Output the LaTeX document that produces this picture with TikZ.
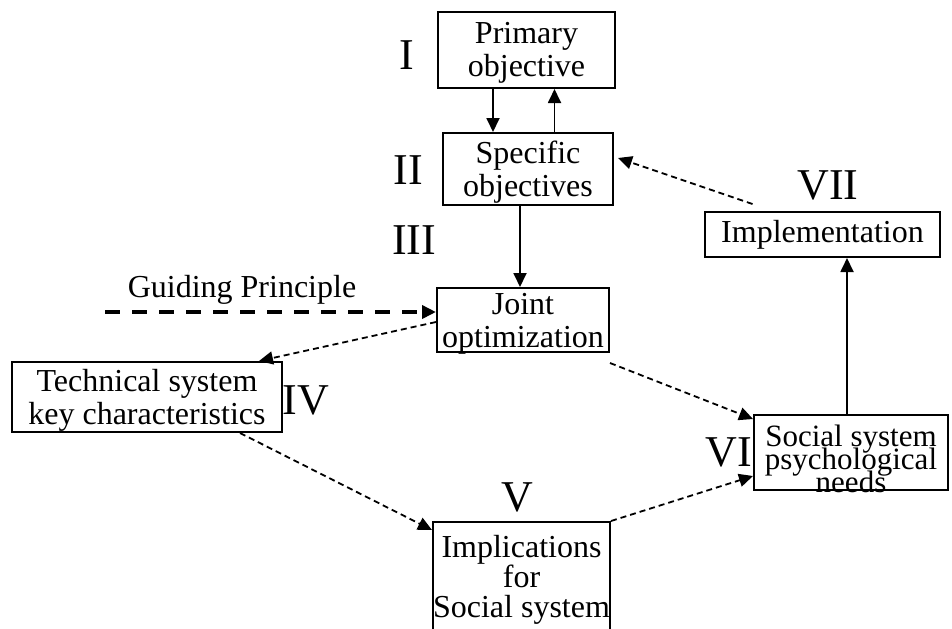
\documentclass[tikz,border=0pt]{standalone}
\usepackage{fontspec}
\setmainfont{Liberation Serif}
\usetikzlibrary{arrows.meta}
\newcommand\tightlines{\fontsize{15.5}{11.5}\selectfont\setlength{\lineskiplimit}{-20pt}}

\begin{document}
\begin{tikzpicture}[x=0.5pt, y=-0.5pt, font=\fontsize{16}{16.5}\selectfont,
	box/.style={draw, line width=1pt, inner sep=0pt, align=center},
	num/.style={font=\fontsize{22}{22}\selectfont},
	link/.style={line width=0.9pt, -{Triangle[length=7pt,width=6.5pt]}},
	dlink/.style={link, dash pattern=on 3pt off 2pt}]
	\clip (0,0) rectangle (952,628);
	\node[box, minimum width=88.5pt, minimum height=38pt, text depth=0.5pt] (prim) at (526.5,50) {Primary\\objective};
	\node[box, minimum width=85pt, minimum height=36pt, text depth=0.5pt] (spec) at (528,169) {Specific\\objectives};
	\node[box, minimum width=86pt, minimum height=32pt, text depth=-1pt] (joint) at (523,320) {Joint\\optimization};
	\node[box, minimum width=135pt, minimum height=35pt, text depth=0pt] (tech) at (147,397) {Technical system\\key characteristics};
	\node[box, minimum width=88.5pt, minimum height=58pt, font=\fontsize{16}{15}\selectfont] (impl) at (521.5,580) {Implications\\for\\Social system};
	\node[box, minimum width=97pt, minimum height=37.5pt] (soc) at (851,452.5) {};
	\node[align=center, inner sep=0pt, font=\tightlines] (soctext) at ([yshift=-3pt]soc.center) {Social system\\psychological\\needs};
	\node[box, minimum width=117.5pt, minimum height=22.5pt] (imp) at (822.5,234.5) {Implementation};
	\node[num] (nI) at (407,55) {I};
	\node[num] (nII) at (408,170) {II};
	\node[num] (nIII) at (414,240) {III};
	\node[num] (nIV) at (306,400) {IV};
	\node[num] (nV) at (517,497) {V};
	\node[num] (nVI) at (729,452) {VI};
	\node[num] (nVII) at (828,185) {VII};
	\node (guide) at (242,290) {Guiding Principle};
	\coordinate (gp) at (105,312);
	\draw[link] ([xshift=-16.75pt]prim.south) to ([xshift=-16.75pt]prim.south |- spec.north);
	\draw[link] ([xshift=13.25pt]spec.north) to ([xshift=13.25pt]spec.north |- prim.south);
	\draw[link] ([xshift=-4pt]spec.south) to ([xshift=-4pt]spec.south |- joint.north);
	\draw[link, line width=1.8pt, dash pattern=on 7.5pt off 6pt] (gp) to (gp -| joint.west);
	\draw[dlink] ([yshift=-1pt]joint.west) to ([xshift=-12pt]tech.north east);
	\draw[dlink] ([xshift=46.5pt]tech.south) to ([yshift=-4.5pt]impl.north west);
	\draw[dlink] ([yshift=-5pt]joint.south east) to ([yshift=-2.5pt]soc.north west);
	\draw[dlink] (impl.north east) to ([yshift=-11.75pt]soc.west);
	\draw[link] ([xshift=-2pt]soc.north) to ([xshift=-2pt]soc.north |- imp.south);
	\draw[dlink] ([xshift=-35pt, yshift=3.5pt]imp.north) to ([xshift=2pt, yshift=5.5pt]spec.east);
\end{tikzpicture}
\end{document}
